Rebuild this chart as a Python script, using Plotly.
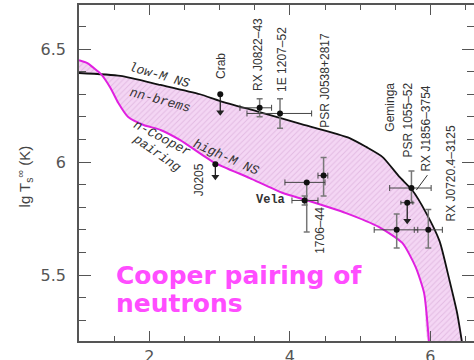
import plotly.graph_objects as go

# Cooling curves: lg(age, yr) vs lg(surface temperature, K)
low_m_age = [1.0, 1.59, 2.16, 2.72, 3.01, 3.57, 4.14, 4.85, 5.09, 5.32, 5.56, 5.74, 5.94, 6.13, 6.27, 6.38, 6.45]
low_m_temp = [6.394, 6.381, 6.341, 6.30, 6.27, 6.221, 6.17, 6.106, 6.066, 6.022, 5.934, 5.876, 5.774, 5.65, 5.478, 5.332, 5.20]

high_m_age = [1.0, 1.12, 1.21, 1.31, 1.45, 1.56, 1.70, 1.92, 2.16, 2.44, 2.91, 3.43, 3.90, 4.23, 4.80, 5.27, 5.60, 5.79, 5.91, 5.98]
high_m_temp = [6.451, 6.438, 6.416, 6.390, 6.327, 6.261, 6.199, 6.164, 6.142, 6.097, 6.0, 5.929, 5.863, 5.832, 5.774, 5.712, 5.642, 5.535, 5.42, 5.20]

# Observed sources with error boxes
src_name = ["RX J0822–43", "1E 1207–52", "PSR J0538+2817", "Vela", "1706–44", "Geminga", "PSR 1055–52", "RX J0720.4–3125"]
src_age = [3.57, 3.86, 4.48, 4.21, 4.24, 5.52, 5.73, 5.97]
src_age_lo = [3.29, 3.39, 4.40, 4.03, 3.93, 5.20, 5.42, 5.77]
src_age_hi = [3.74, 4.31, 4.54, 4.40, 4.50, 5.82, 6.01, 6.17]
src_temp = [6.24, 6.215, 5.94, 5.83, 5.91, 5.70, 5.885, 5.70]
src_temp_lo = [6.20, 6.15, 5.85, 5.81, 5.69, 5.62, 5.82, 5.62]
src_temp_hi = [6.28, 6.28, 6.02, 5.85, 5.91, 5.77, 5.96, 5.79]

# Upper limits
lim_name = ["Crab", "J0205", "RX J1856–3754"]
lim_age = [3.01, 2.94, 5.67]
lim_age_lo = [3.01, 2.94, 5.58]
lim_age_hi = [3.01, 2.94, 5.75]
lim_temp = [6.30, 5.99, 5.82]
lim_arrow_to = [6.22, 5.935, 5.74]

fig = go.Figure()

# shaded band between the two cooling curves
fig.add_trace(go.Scatter(
    x=low_m_age + high_m_age[::-1], y=low_m_temp + high_m_temp[::-1],
    mode="lines", fill="toself", line=dict(width=0, shape="spline", smoothing=0.6),
    fillcolor="#f4d6f4",
    fillpattern=dict(shape="/", fgcolor="#cfa0cf", bgcolor="#f4d6f4", size=4, solidity=0.25),
    hoverinfo="skip"))

fig.add_trace(go.Scatter(x=low_m_age, y=low_m_temp, mode="lines",
                         line=dict(color="#111111", width=1.8, shape="spline", smoothing=0.6)))
fig.add_trace(go.Scatter(x=high_m_age, y=high_m_temp, mode="lines",
                         line=dict(color="#e020e0", width=2, shape="spline", smoothing=0.6)))

fig.add_trace(go.Scatter(
    x=src_age, y=src_temp, mode="markers",
    marker=dict(color="#111111", size=6),
    error_x=dict(type="data", symmetric=False,
                 array=[h - a for h, a in zip(src_age_hi, src_age)],
                 arrayminus=[a - l for a, l in zip(src_age, src_age_lo)],
                 color="#444444", thickness=1, width=3),
    error_y=dict(type="data", symmetric=False,
                 array=[h - t for h, t in zip(src_temp_hi, src_temp)],
                 arrayminus=[t - l for t, l in zip(src_temp, src_temp_lo)],
                 color="#777777", thickness=1.5, width=3)))

# upper limits: point, shaft down to the arrow tip
fig.add_trace(go.Scatter(
    x=lim_age, y=lim_temp, mode="markers",
    marker=dict(color="#111111", size=6),
    error_x=dict(type="data", symmetric=False,
                 array=[h - a for h, a in zip(lim_age_hi, lim_age)],
                 arrayminus=[a - l for a, l in zip(lim_age, lim_age_lo)],
                 color="#444444", thickness=1, width=2),
    error_y=dict(type="data", symmetric=False,
                 array=[0] * len(lim_temp),
                 arrayminus=[t - t2 for t, t2 in zip(lim_temp, lim_arrow_to)],
                 color="#222222", thickness=1.3, width=0)))
fig.add_trace(go.Scatter(
    x=lim_age, y=lim_arrow_to, mode="markers",
    marker=dict(symbol="triangle-down", color="#222222", size=7)))

label_font = dict(family="Liberation Sans, Arial", size=12, color="#333333")
rot_labels = [
    ("Crab", 3.02, 6.425),
    ("RX J0822–43", 3.546, 6.478),
    ("1E 1207–52", 3.887, 6.456),
    ("PSR J0538+2817", 4.496, 6.363),
    ("J0205", 2.709, 5.92),
    ("1706–44", 4.426, 5.699),
    ("Geminga", 5.433, 6.243),
    ("PSR 1055–52", 5.674, 6.186),
    ("RX J1856–3754", 5.943, 6.150),
    ("RX J0720.4–3125", 6.298, 5.951),
]
for txt, lx, ly in rot_labels:
    fig.add_annotation(x=lx, y=ly, text=txt, showarrow=False, textangle=-90,
                       xanchor="center", yanchor="middle", font=label_font)

fig.add_annotation(x=3.96, y=5.832, text="Vela", showarrow=False, xanchor="right",
                   yanchor="middle",
                   font=dict(family="Liberation Mono", size=12, color="#333333", weight="bold"))

# pointer from the RX J1856 label to its point
fig.add_shape(type="line", x0=5.80, y0=5.876, x1=5.957, y1=5.942,
              line=dict(color="#333333", width=1))

curve_font = dict(family="Liberation Mono", size=13, color="#333333", style="italic")
curve_labels = [
    ("low-M NS", 2.142, 6.381, 16),
    ("nn-brems", 2.156, 6.274, 15),
    ("n-Cooper", 2.184, 6.106, 28),
    ("pairing", 2.113, 6.04, 35),
    ("high-M NS", 3.09, 6.022, 24),
]
for txt, lx, ly, ang in curve_labels:
    fig.add_annotation(x=lx, y=ly, text=txt, showarrow=False, textangle=ang,
                       xanchor="center", yanchor="middle", font=curve_font)

big_font = dict(family="DejaVu Sans", size=25, color="#ff4dff", weight="bold")
fig.add_annotation(x=1.518, y=5.497, text="Cooper pairing of", showarrow=False,
                   xanchor="left", yanchor="middle", borderpad=0, font=big_font)
fig.add_annotation(x=1.518, y=5.376, text="neutrons", showarrow=False,
                   xanchor="left", yanchor="middle", borderpad=0, font=big_font)

# y-axis title
fig.add_annotation(xref="paper", yref="paper", x=-0.139, y=0.49,
                   text="lg T<sub>s</sub><sup>∞</sup> (K)", showarrow=False, textangle=-90,
                   xanchor="center", yanchor="middle",
                   font=dict(family="Liberation Sans, Arial", size=15, color="#444444"))

axis_common = dict(showline=True, linecolor="#555555", linewidth=1.5, mirror="ticks",
                   ticks="inside", tickcolor="#555555", tickwidth=1.3,
                   showgrid=False, zeroline=False, automargin=False,
                   tickfont=dict(family="DejaVu Sans", size=16, color="#555555"))

fig.update_xaxes(range=[1.0, 6.62], tick0=2, dtick=2, ticklen=10,
                 minor=dict(dtick=0.5, tick0=0, ticks="inside", ticklen=5,
                            tickcolor="#555555", tickwidth=1, showgrid=False),
                 **axis_common)
fig.update_yaxes(range=[5.208, 6.695], tick0=5.5, dtick=0.5, ticklen=12,
                 minor=dict(dtick=0.1, tick0=0, ticks="inside", ticklen=7,
                            tickcolor="#555555", tickwidth=1, showgrid=False),
                 ticklabelstandoff=8, **axis_common)

fig.update_layout(width=474, height=360, margin=dict(l=79, r=0, t=5, b=19),
                  plot_bgcolor="white", paper_bgcolor="white", showlegend=False)

fig.write_html("out.html")
